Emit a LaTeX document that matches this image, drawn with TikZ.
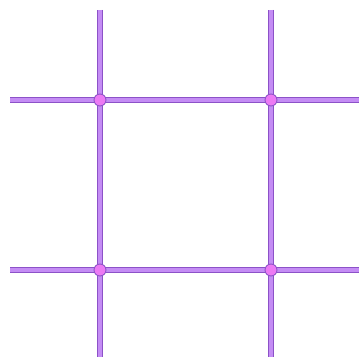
\documentclass[tikz,border=0pt]{standalone}
\usepackage{xcolor}
\usepackage{tikz}
\usetikzlibrary{positioning}
\definecolor{gridedge}{RGB}{140,82,200}
\definecolor{gridfill}{RGB}{196,140,244}
\definecolor{jointfill}{RGB}{236,122,244}
\tikzset{
  bar/.style={draw=gridedge, double=gridfill, double distance=3.6pt, line width=0.9pt},
  joint/.style={circle, draw=gridedge, fill=jointfill, line width=0.9pt,
    minimum size=12pt, inner sep=0pt},
}
\begin{document}
\begin{tikzpicture}[x=1pt,y=-1pt]
\useasboundingbox (0,0) rectangle (359,363);
% free ends of the bars
\coordinate (hTl) at (10,100);  \coordinate (hTr) at (359,100);
\coordinate (hBl) at (10,270);  \coordinate (hBr) at (359,270);
\coordinate (vLt) at (100,10);  \coordinate (vLb) at (100,357);
\coordinate (vRt) at (271,10);  \coordinate (vRb) at (271,357);
\draw[bar] (hTl) -- (hTr);
\draw[bar] (hBl) -- (hBr);
\draw[bar] (vLt) -- (vLb);
\draw[bar] (vRt) -- (vRb);
% joints
\node[joint] (tl) at (100,100) {};
\node[joint] (tr) at (271,100) {};
\node[joint] (bl) at (100,270) {};
\node[joint] (br) at (271,270) {};
\end{tikzpicture}
\end{document}
